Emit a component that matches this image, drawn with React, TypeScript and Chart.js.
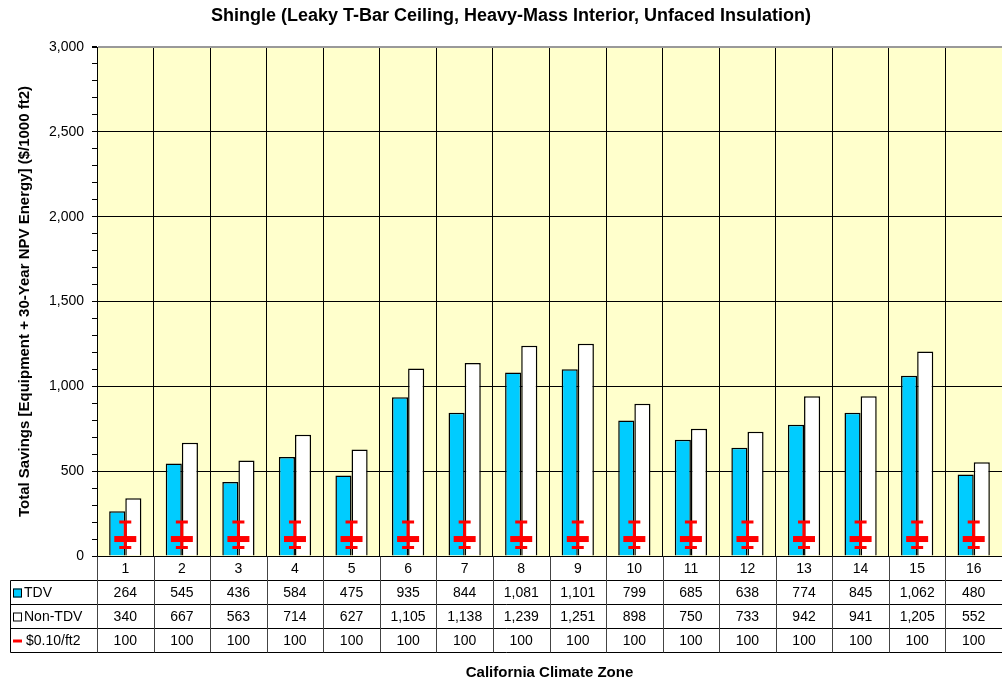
import React, { useEffect, useRef } from 'react';
import { Chart, registerables } from 'chart.js';

Chart.register(...registerables);

const FONT = "'Liberation Sans', Arial, Helvetica, sans-serif";

const titleText = 'Shingle (Leaky T-Bar Ceiling, Heavy-Mass Interior, Unfaced Insulation)';
const yTitle = 'Total Savings [Equipment + 30-Year NPV Energy] ($/1000 ft2)';
const xTitle = 'California Climate Zone';

const zones = ['1', '2', '3', '4', '5', '6', '7', '8', '9', '10', '11', '12', '13', '14', '15', '16'];
const tdv = [264, 545, 436, 584, 475, 935, 844, 1081, 1101, 799, 685, 638, 774, 845, 1062, 480];
const nonTdv = [340, 667, 563, 714, 627, 1105, 1138, 1239, 1251, 898, 750, 733, 942, 941, 1205, 552];
const costLine = [100, 100, 100, 100, 100, 100, 100, 100, 100, 100, 100, 100, 100, 100, 100, 100];
const errPlus = 100;
const errMinus = 50;

const seriesNames = ['TDV', 'Non-TDV', '$0.10/ft2'];
const yMin = 0;
const yMax = 3000;
const yMajor = 500;
const yMinor = 100;

const CYAN = '#00CCFF';
const RED = '#FF0000';
const PLOT_BG = '#FFFFCC';

const fmt = (v: number) => v.toLocaleString('en-US');

const bgPlugin = {
  id: 'plotBg',
  beforeDraw(chart: any) {
    const { ctx, chartArea } = chart;
    ctx.save();
    ctx.fillStyle = PLOT_BG;
    ctx.fillRect(chartArea.left, chartArea.top, chartArea.right - chartArea.left, chartArea.bottom - chartArea.top);
    ctx.restore();
  },
};

const titlePlugin = {
  id: 'mainTitle',
  afterDraw(chart: any) {
    const { ctx } = chart;
    ctx.save();
    ctx.fillStyle = '#000';
    ctx.font = `bold 18px ${FONT}`;
    ctx.textAlign = 'center';
    ctx.textBaseline = 'middle';
    ctx.fillText(titleText, 511, 16);
    ctx.restore();
  },
};

const errPlugin = {
  id: 'errBars',
  afterDatasetsDraw(chart: any) {
    const { ctx } = chart;
    const xs = chart.scales.x;
    const ys = chart.scales.y;
    ctx.save();
    ctx.strokeStyle = RED;
    ctx.lineWidth = 3;
    costLine.forEach((v, i) => {
      const x = xs.getPixelForValue(i);
      const yt = ys.getPixelForValue(v + errPlus);
      const yb = ys.getPixelForValue(v - errMinus);
      ctx.beginPath();
      ctx.moveTo(x, yt);
      ctx.lineTo(x, yb);
      ctx.moveTo(x - 6, yt);
      ctx.lineTo(x + 6, yt);
      ctx.moveTo(x - 6, yb);
      ctx.lineTo(x + 6, yb);
      ctx.stroke();
    });
    ctx.restore();
  },
};

const tablePlugin = {
  id: 'dataTable',
  afterDraw(chart: any) {
    const { ctx, chartArea } = chart;
    const xs = chart.scales.x;
    const rowH = 24;
    const r0 = Math.round(chartArea.bottom) + 0.5;
    const tableLeft = 10.5;
    const right = chart.width;
    const step = xs.getPixelForValue(1) - xs.getPixelForValue(0);
    ctx.save();
    ctx.strokeStyle = '#000';
    ctx.lineWidth = 1;
    ctx.beginPath();
    for (let r = 1; r <= 4; r++) {
      const y = r0 + r * rowH;
      ctx.moveTo(tableLeft, y);
      ctx.lineTo(right, y);
    }
    ctx.moveTo(tableLeft, r0 + rowH);
    ctx.lineTo(tableLeft, r0 + 4 * rowH);
    ctx.stroke();

    ctx.strokeStyle = '#444';
    ctx.beginPath();
    for (let i = 0; i <= zones.length; i++) {
      const bx = Math.round(xs.getPixelForValue(0) - step / 2 + i * step) + 0.5;
      ctx.moveTo(bx, r0);
      ctx.lineTo(bx, r0 + 4 * rowH);
    }
    ctx.stroke();

    ctx.fillStyle = '#000';
    ctx.font = `14px ${FONT}`;
    ctx.textAlign = 'center';
    ctx.textBaseline = 'middle';
    const rows = [tdv, nonTdv, costLine];
    rows.forEach((arr, r) => {
      const yMid = r0 + (r + 1) * rowH + rowH / 2;
      arr.forEach((v, i) => {
        ctx.fillText(fmt(v), xs.getPixelForValue(i), yMid + 1);
      });
    });

    ctx.textAlign = 'left';
    seriesNames.forEach((name, r) => {
      const yMid = r0 + (r + 1) * rowH + rowH / 2;
      if (r === 0 || r === 1) {
        ctx.fillStyle = r === 0 ? CYAN : '#FFFFFF';
        ctx.fillRect(13, yMid - 4, 9, 9);
        ctx.strokeStyle = '#000';
        ctx.strokeRect(13.5, yMid - 3.5, 8, 8);
      } else {
        ctx.strokeStyle = RED;
        ctx.lineWidth = 3;
        ctx.beginPath();
        ctx.moveTo(13, yMid + 0.5);
        ctx.lineTo(22, yMid + 0.5);
        ctx.stroke();
        ctx.lineWidth = 1;
      }
      ctx.fillStyle = '#000';
      ctx.fillText(name, r === 2 ? 26 : 24, yMid + 1);
    });
    ctx.restore();
  },
};

export default function App() {
  const ref = useRef<HTMLCanvasElement | null>(null);

  useEffect(() => {
    document.body.style.margin = '0';
    Chart.defaults.font.family = FONT;
    const canvas = ref.current;
    if (!canvas) return;
    const chart = new Chart(canvas, {
      type: 'bar',
      data: {
        labels: zones,
        datasets: [
          {
            type: 'line',
            label: seriesNames[2],
            data: costLine,
            showLine: false,
            pointStyle: 'line',
            pointRadius: 11,
            pointHoverRadius: 11,
            pointBorderWidth: 6,
            pointBorderColor: RED,
            borderColor: RED,
            backgroundColor: RED,
            order: 0,
          } as any,
          {
            label: seriesNames[0],
            data: tdv,
            backgroundColor: CYAN,
            borderColor: '#000',
            borderWidth: 1.5,
            barPercentage: 1,
            categoryPercentage: 0.57,
            order: 1,
          },
          {
            label: seriesNames[1],
            data: nonTdv,
            backgroundColor: '#FFFFFF',
            borderColor: '#000',
            borderWidth: 1.5,
            barPercentage: 1,
            categoryPercentage: 0.57,
            order: 1,
          },
        ],
      },
      options: {
        responsive: false,
        animation: false,
        layout: { autoPadding: false, padding: { top: 47, left: 0, right: 0, bottom: 0 } },
        plugins: {
          legend: { display: false },
          tooltip: { enabled: false },
          title: { display: false },
        },
        scales: {
          x: {
            type: 'category',
            offset: true,
            grid: { offset: true, color: '#000', drawTicks: false, tickLength: 0 },
            border: { color: '#000' },
            ticks: { color: '#000', font: { size: 14 }, padding: 5, autoSkip: false, maxRotation: 0 },
            title: {
              display: true,
              text: xTitle,
              color: '#000',
              font: { size: 15, weight: 'bold', family: FONT },
              padding: { top: 0, bottom: 1 },
            },
            afterFit: (s: any) => {
              s.height = 127;
              s.paddingLeft = 0;
              s.paddingRight = 0;
            },
          },
          y: {
            min: yMin,
            max: yMax,
            ticks: {
              stepSize: yMinor,
              maxTicksLimit: 100,
              autoSkip: false,
              color: '#000',
              font: { size: 14 },
              padding: 8,
              callback: (v: any) => (Number(v) % yMajor === 0 ? fmt(Number(v)) : ''),
            },
            grid: {
              color: (c: any) => {
                const v = c.tick ? c.tick.value : 0;
                if (v === yMax) return '#999999';
                return v % yMajor === 0 ? '#000' : 'rgba(0,0,0,0)';
              },
              lineWidth: (c: any) => (c.tick && c.tick.value === yMax ? 2 : 1),
              tickColor: '#000',
              tickLength: 5,
            },
            border: { color: '#000' },
            title: {
              display: true,
              text: yTitle,
              color: '#000',
              font: { size: 15, weight: 'bold', family: FONT },
              padding: { top: 16, bottom: 0 },
            },
            afterFit: (s: any) => {
              s.width = 97;
            },
          },
        },
      } as any,
      plugins: [bgPlugin, errPlugin, tablePlugin, titlePlugin],
    });
    return () => chart.destroy();
  }, []);

  return (
    <div style={{ width: 1002, height: 683 }}>
      <canvas ref={ref} width={1002} height={683} style={{ display: 'block', width: 1002, height: 683 }} />
    </div>
  );
}
